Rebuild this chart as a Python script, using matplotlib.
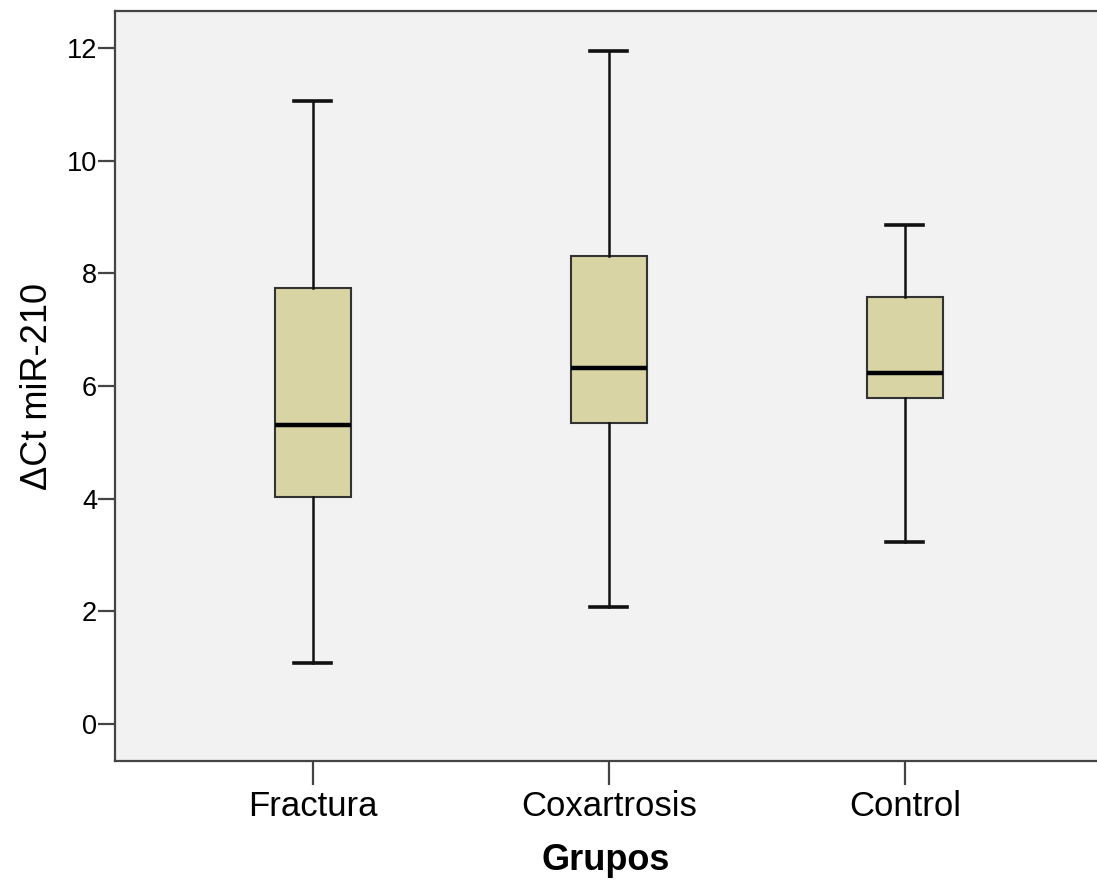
import matplotlib
matplotlib.use("Agg")
from matplotlib import pyplot as plt

plt.rcParams['font.family'] = ['Liberation Sans', 'DejaVu Sans']

# Box plot summary values
groups = ['Fractura', 'Coxartrosis', 'Control']
whisker_low = [1.08, 2.08, 3.23]
q1 = [4.03, 5.34, 5.79]
median = [5.31, 6.32, 6.23]
q3 = [7.74, 8.31, 7.58]
whisker_high = [11.06, 11.95, 8.86]
yticks = [0, 2, 4, 6, 8, 10, 12]

stats = []
for i, name in enumerate(groups):
    stats.append({'label': name, 'whislo': whisker_low[i], 'q1': q1[i],
                  'med': median[i], 'q3': q3[i], 'whishi': whisker_high[i],
                  'fliers': []})

fig = plt.figure(figsize=(10.97, 8.8), dpi=100)
ax = fig.add_axes([0.1048, 0.1352, 0.8952, 0.8523])
ax.set_facecolor('#f2f2f2')

ax.bxp(stats, positions=[1, 2, 3], widths=0.255, patch_artist=True,
       showfliers=False,
       boxprops=dict(facecolor='#d9d4a4', edgecolor='#333333', linewidth=1.5),
       medianprops=dict(color='black', linewidth=3.2, solid_capstyle='butt'),
       whiskerprops=dict(color='#111111', linewidth=1.8),
       capprops=dict(color='#111111', linewidth=2.6),
       capwidths=0.125)

ax.set_xlim(0.331, 3.649)
ax.set_ylim(-0.66, 12.66)
ax.set_yticks(yticks)
ax.set_xticks([1, 2, 3])
ax.set_xticklabels(groups, fontsize=25)
ax.tick_params(axis='y', labelsize=19.5, length=12, width=1.6, color='#444444', pad=1)
ax.tick_params(axis='x', length=17, width=1.6, color='#444444', pad=4)

for side in ['left', 'bottom', 'top']:
    ax.spines[side].set_color('#444444')
    ax.spines[side].set_linewidth(1.6)
ax.spines['right'].set_visible(False)

ax.set_ylabel('ΔCt miR-210', fontsize=26, labelpad=8)
ax.set_xlabel('Grupos', fontsize=26, fontweight='bold', labelpad=14)

fig.savefig('out.png', dpi=100)
